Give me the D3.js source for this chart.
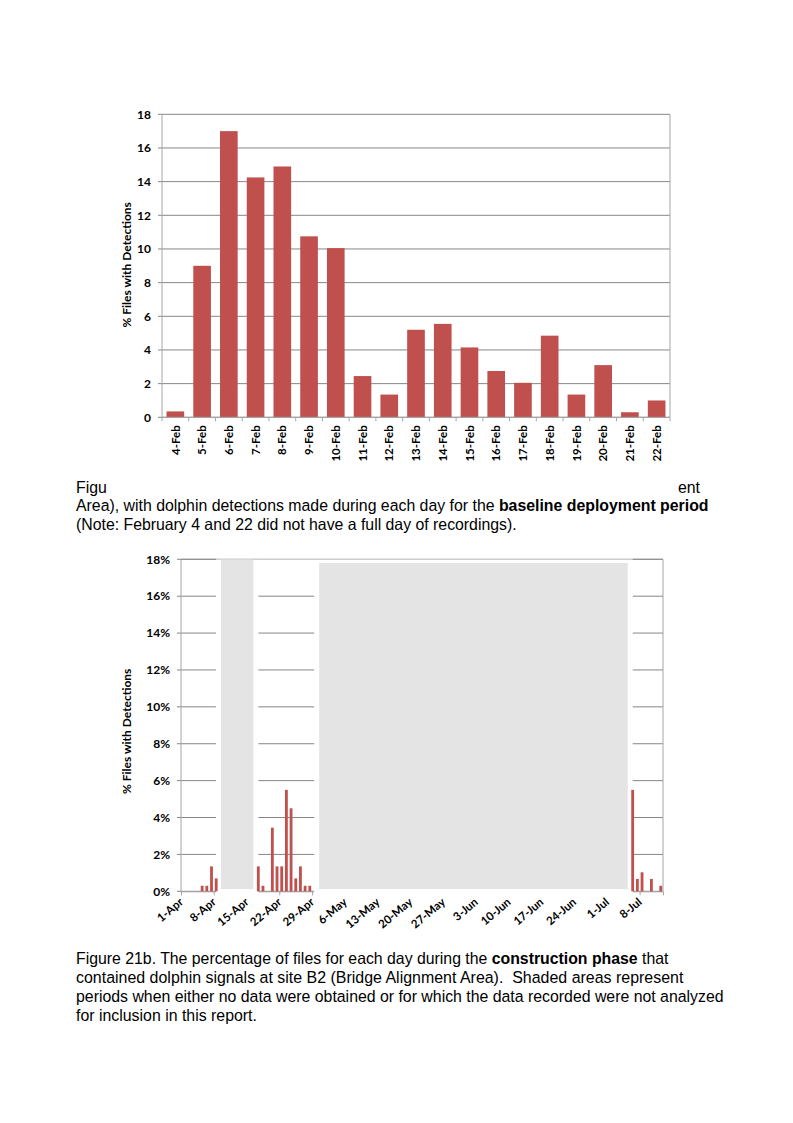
<!DOCTYPE html>
<html>
<head>
<meta charset="utf-8">
<script src="https://cdn.jsdelivr.net/npm/d3@7"></script>
<style>
  html, body { margin: 0; padding: 0; background: #fff; }
  svg { display: block; }
  .chart text { font-family: Lato, "Open Sans", sans-serif; font-weight: bold; fill: #000; }
  .cap { font-family: "Liberation Sans Narrow", "Arial Narrow", "Liberation Sans", Arial, sans-serif; font-size: 16.5px; fill: #000; }
</style>
</head>
<body>
<script>
// ---------- Figure 21a: baseline deployment ----------
const baselineDays = ["4-Feb","5-Feb","6-Feb","7-Feb","8-Feb","9-Feb","10-Feb","11-Feb","12-Feb","13-Feb",
  "14-Feb","15-Feb","16-Feb","17-Feb","18-Feb","19-Feb","20-Feb","21-Feb","22-Feb"];
const baselineValues = [0.35, 9.0, 17.0, 14.25, 14.9, 10.75, 10.05, 2.45, 1.35, 5.2,
  5.55, 4.15, 2.75, 2.05, 4.85, 1.35, 3.1, 0.3, 1.0];
const baselineTicks = [0, 2, 4, 6, 8, 10, 12, 14, 16, 18];

// ---------- Figure 21b: construction phase ----------
const constrDates = ["2013-04-01","2013-04-02","2013-04-03","2013-04-04","2013-04-05","2013-04-06","2013-04-07","2013-04-08",
  "2013-04-17","2013-04-18","2013-04-19","2013-04-20","2013-04-21","2013-04-22","2013-04-23","2013-04-24",
  "2013-04-25","2013-04-26","2013-04-27","2013-04-28",
  "2013-07-06","2013-07-07","2013-07-08","2013-07-09","2013-07-10","2013-07-11","2013-07-12"];
const constrValues = [0, 0, 0, 0, 0.3, 0.3, 1.35, 0.7,
  1.35, 0.3, 0, 3.45, 1.35, 1.35, 5.5, 4.5,
  0.7, 1.35, 0.3, 0.3,
  5.5, 0.67, 1.03, 0, 0.67, 0, 0.3];
const shadeStart = ["2013-04-09", "2013-04-30"];
const shadeEnd   = ["2013-04-16", "2013-07-05"];
const shadeTop   = [18, 17.8];
const shadeBottom = 0.12;
const constrTickDates = ["2013-04-01","2013-04-08","2013-04-15","2013-04-22","2013-04-29","2013-05-06","2013-05-13",
  "2013-05-20","2013-05-27","2013-06-03","2013-06-10","2013-06-17","2013-06-24","2013-07-01","2013-07-08"];
const constrTickLabels = ["1-Apr","8-Apr","15-Apr","22-Apr","29-Apr","6-May","13-May","20-May","27-May",
  "3-Jun","10-Jun","17-Jun","24-Jun","1-Jul","8-Jul"];
const constrYTicks = [0, 2, 4, 6, 8, 10, 12, 14, 16, 18];
const axisDomain = ["2013-04-01", "2013-07-13"];

const BAR = "#c0504d", GRID = "#868686", BORDER = "#a6a6a6", SHADE = "#e4e4e4";

const svg = d3.select("body").append("svg").attr("width", 793).attr("height", 1123);
svg.append("rect").attr("width", 793).attr("height", 1123).attr("fill", "#fff");

// caption helper: draws a line of (possibly mixed bold) text, squeezed horizontally to a target width
function captionLine(parent, x, y, parts, targetWidth, anchorEnd) {
  const g = parent.append("g");
  const t = g.append("text").attr("class", "cap").attr("xml:space", "preserve");
  parts.forEach(p => t.append("tspan").attr("font-weight", p.bold ? "bold" : null).text(p.text));
  const w = t.node().getComputedTextLength();
  const s = targetWidth ? targetWidth / w : 1;
  if (anchorEnd) t.attr("text-anchor", "end");
  g.attr("transform", `translate(${x},${y}) scale(${s},1)`);
  return s;
}

// ======== Top chart ========
{
  const g = svg.append("g").attr("class", "chart");
  const x = d3.scaleBand().domain(baselineDays).range([162, 670]).paddingInner(0.34).paddingOuter(0.17);
  const y = d3.scaleLinear().domain([0, 18]).range([417.3, 114.3]);
  const [x0, x1] = x.range();

  g.append("g").selectAll("line").data(baselineTicks).join("line")
    .attr("x1", x0 - 4).attr("x2", x1)
    .attr("y1", d => y(d)).attr("y2", d => y(d))
    .attr("stroke", GRID).attr("stroke-width", 1);
  g.append("line").attr("x1", x1).attr("x2", x1).attr("y1", y(18)).attr("y2", y(0))
    .attr("stroke", BORDER);
  g.append("line").attr("x1", x0).attr("x2", x0).attr("y1", y(18)).attr("y2", y(0))
    .attr("stroke", BORDER);
  g.append("g").selectAll("rect").data(baselineValues).join("rect")
    .attr("x", (d, i) => x(baselineDays[i]))
    .attr("width", x.bandwidth())
    .attr("y", d => y(d)).attr("height", d => y(0) - y(d))
    .attr("fill", BAR);
  const step = x.step();
  g.append("line").attr("x1", x0).attr("x2", x1).attr("y1", y(0)).attr("y2", y(0)).attr("stroke", BORDER);
  g.append("g").selectAll("line").data(d3.range(baselineDays.length + 1)).join("line")
    .attr("x1", i => x0 + i * step).attr("x2", i => x0 + i * step)
    .attr("y1", y(0)).attr("y2", y(0) + 4).attr("stroke", BORDER);
  g.append("g").selectAll("text").data(baselineTicks).join("text")
    .attr("x", 151).attr("y", d => y(d)).attr("dy", "0.35em")
    .attr("text-anchor", "end").attr("font-size", 12).text(d => d);
  g.append("g").selectAll("text").data(baselineDays).join("text")
    .attr("transform", d => `translate(${x(d) + x.bandwidth() / 2},${y(0) + 8}) rotate(-90)`)
    .attr("dy", "0.36em").attr("text-anchor", "end").attr("font-size", 11.5).text(d => d);
  g.append("text").attr("transform", `translate(127,${(y(0) + y(18)) / 2 - 1}) rotate(-90)`)
    .attr("dy", "0.35em").attr("text-anchor", "middle").attr("font-size", 12)
    .text("% Files with Detections");
}

// ======== Top caption (partly hidden behind chart) ========
{
  const c = svg.append("g");
  const s = captionLine(c, 76, 511, [
    { text: "Area), with dolphin detections made during each day for the " },
    { text: "baseline deployment period", bold: true }], 633);
  captionLine(c, 76, 530, [{ text: "(Note: February 4 and 22 did not have a full day of recordings)." }], 441);
  const f = c.append("text").attr("class", "cap").text("Figu")
    .attr("transform", `translate(76,493) scale(${s},1)`);
  c.append("text").attr("class", "cap").text("ent").attr("text-anchor", "end")
    .attr("transform", `translate(700,493) scale(${s},1)`);
}

// ======== Bottom chart ========
{
  const g = svg.append("g").attr("class", "chart");
  const parse = d3.timeParse("%Y-%m-%d");
  const x = d3.scaleTime().domain(axisDomain.map(parse)).range([181, 663]);
  const y = d3.scaleLinear().domain([0, 18]).range([891.3, 559.3]);
  const [x0, x1] = x.range();
  const slot = d => x(d3.timeDay.offset(d, 1)) - x(d);

  g.append("g").selectAll("line").data(constrYTicks).join("line")
    .attr("x1", x0 - 4).attr("x2", x1)
    .attr("y1", d => y(d)).attr("y2", d => y(d))
    .attr("stroke", GRID);
  g.append("line").attr("x1", x0).attr("x2", x0).attr("y1", y(18)).attr("y2", y(0)).attr("stroke", BORDER);
  const xAxis = d3.axisBottom(x).tickValues(constrTickDates.map(parse)).tickSize(4).tickFormat("");
  const ax = g.append("g").attr("transform", `translate(0,${y(0)})`).call(xAxis);
  ax.select(".domain").attr("stroke", BORDER);
  ax.selectAll(".tick line").attr("stroke", BORDER);

  const inset = 2.5, gap = 5;
  const shades = shadeStart.map((s, i) => {
    const a = parse(s), b = d3.timeDay.offset(parse(shadeEnd[i]), 1);
    return { x0: x(a) + inset, x1: x(b) - inset, top: shadeTop[i] };
  });
  g.append("g").selectAll("rect").data(shades).join("rect")
    .attr("x", d => d.x0 - gap).attr("width", d => d.x1 - d.x0 + 2 * gap)
    .attr("y", d => y(d.top) + 0.5).attr("height", d => y(0) + 6 - y(d.top) - 0.5)
    .attr("fill", "#fff");
  g.append("g").selectAll("rect").data(shades).join("rect")
    .attr("x", d => d.x0).attr("width", d => d.x1 - d.x0)
    .attr("y", d => y(d.top)).attr("height", d => y(shadeBottom) - y(d.top))
    .attr("fill", SHADE);
  g.append("line").attr("x1", x0).attr("x2", x1).attr("y1", y(18)).attr("y2", y(18))
    .attr("stroke", "#d9d9d9");
  g.append("line").attr("x1", shades[1].x1 + gap).attr("x2", x1).attr("y1", y(18)).attr("y2", y(18))
    .attr("stroke", GRID);
  g.append("line").attr("x1", x0).attr("x2", shades[0].x0 - gap).attr("y1", y(18)).attr("y2", y(18))
    .attr("stroke", GRID);
  g.append("line").attr("x1", x1).attr("x2", x1).attr("y1", y(18)).attr("y2", y(0)).attr("stroke", BORDER);

  g.append("g").selectAll("rect").data(constrValues).join("rect")
    .attr("x", (d, i) => { const t = parse(constrDates[i]); return x(t) + slot(t) * 0.22; })
    .attr("width", (d, i) => slot(parse(constrDates[i])) * 0.6)
    .attr("y", d => y(d)).attr("height", d => y(0) - y(d))
    .attr("fill", BAR);

  g.append("g").selectAll("text").data(constrYTicks).join("text")
    .attr("x", 170).attr("y", d => y(d)).attr("dy", "0.35em")
    .attr("text-anchor", "end").attr("font-size", 12).text(d => d + "%");
  g.append("g").selectAll("text").data(constrTickDates).join("text")
    .attr("transform", d => `translate(${x(parse(d)) + 3},${y(0) + 12}) rotate(-40)`)
    .attr("text-anchor", "end").attr("font-size", 11.5)
    .text((d, i) => constrTickLabels[i]);
  g.append("text").attr("transform", `translate(127,${(y(0) + y(18)) / 2 + 6}) rotate(-90)`)
    .attr("dy", "0.35em").attr("text-anchor", "middle").attr("font-size", 12)
    .text("% Files with Detections");
}

// ======== Bottom caption ========
{
  const c = svg.append("g");
  captionLine(c, 76, 964, [
    { text: "Figure 21b. The percentage of files for each day during the " },
    { text: "construction phase", bold: true },
    { text: " that" }], 593);
  captionLine(c, 76, 983, [{ text: "contained dolphin signals at site B2 (Bridge Alignment Area).  Shaded areas represent" }], 608);
  captionLine(c, 76, 1002, [{ text: "periods when either no data were obtained or for which the data recorded were not analyzed" }], 648);
  captionLine(c, 76, 1021, [{ text: "for inclusion in this report." }], 181);
}
</script>
</body>
</html>
